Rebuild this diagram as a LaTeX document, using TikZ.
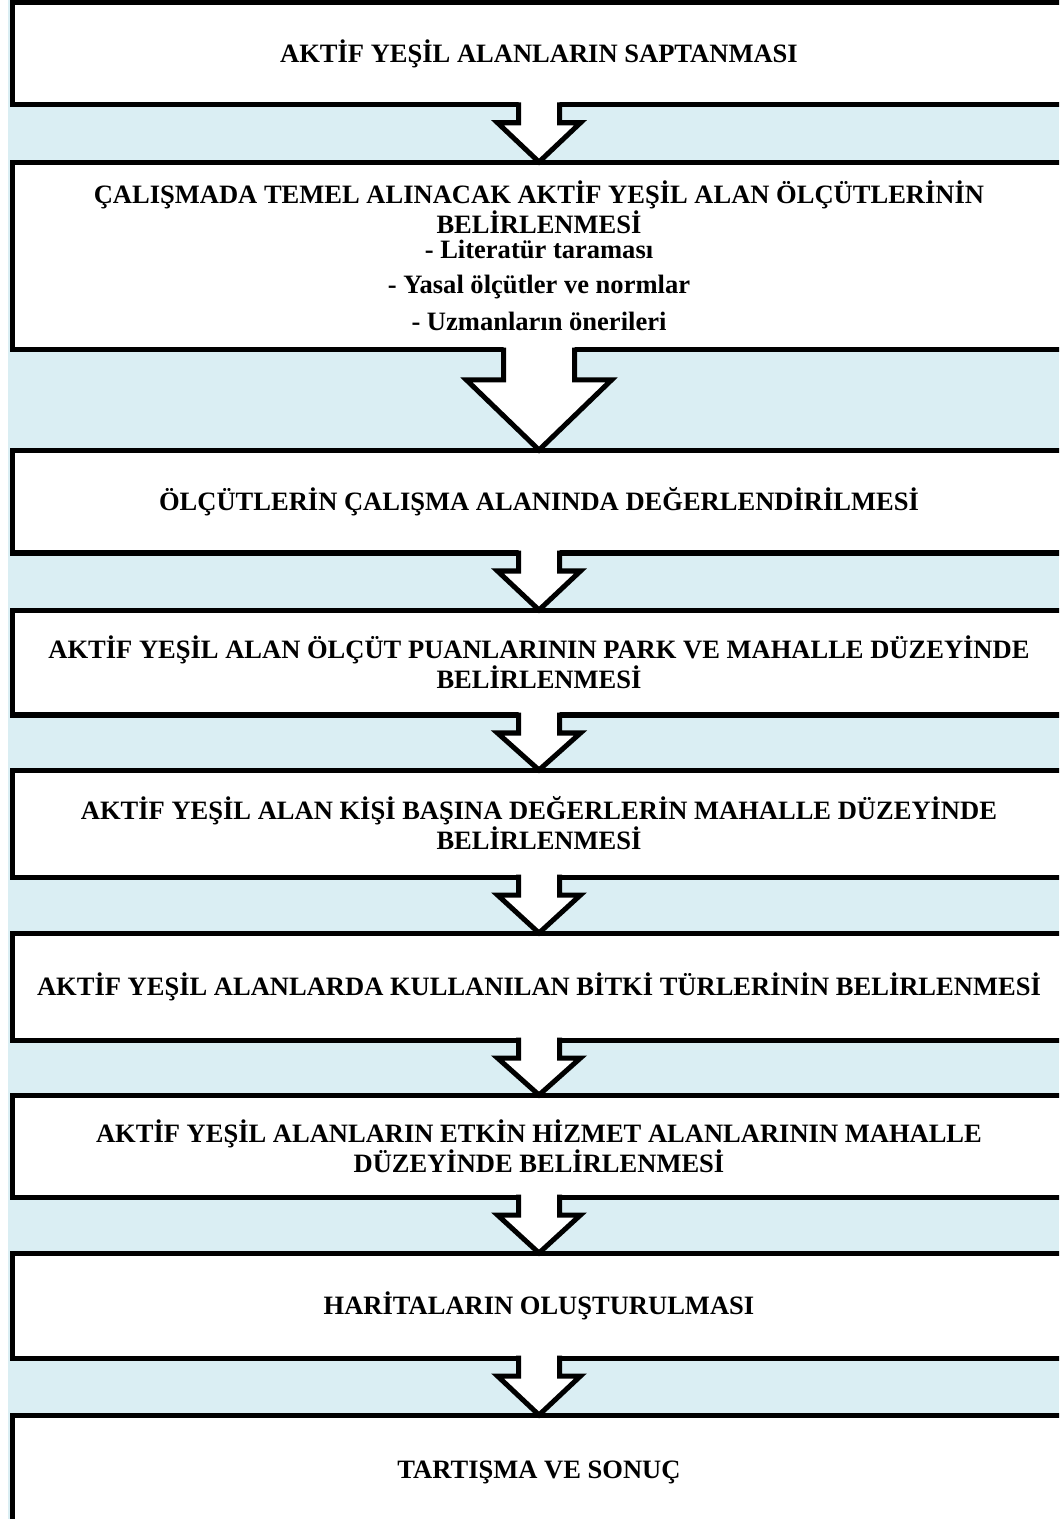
\documentclass[tikz,border=0pt]{standalone}
\usepackage{fontspec}
\setmainfont{Liberation Serif}
\usetikzlibrary{calc}

\definecolor{gapblue}{RGB}{218,238,243}
\newcommand{\stagefont}{\fontsize{15.1pt}{17.1pt}\selectfont\bfseries}

% hollow block arrow from the bottom of one box to the top of the next
\newcommand{\flowarrow}[5]{%
  \fill[white]
    ($(#1.south)+(-#3,-4)$) -- ($(#1.south)+(-#3,#5)$) -- ($(#1.south)+(-#4,#5)$)
    -- (#2.north)
    -- ($(#1.south)+(#4,#5)$) -- ($(#1.south)+(#3,#5)$) -- ($(#1.south)+(#3,-4)$) -- cycle;
  \draw[hollowarrow]
    ($(#1.south)+(-#3,-2.4)$) -- ($(#1.south)+(-#3,#5)$) -- ($(#1.south)+(-#4,#5)$)
    -- (#2.north)
    -- ($(#1.south)+(#4,#5)$) -- ($(#1.south)+(#3,#5)$) -- ($(#1.south)+(#3,-2.4)$);
}

\tikzset{
  stagebox/.style={draw, fill=white, line width=2.85pt, minimum width=21.08cm,
    inner sep=0pt, outer sep=0pt, align=center, font=\stagefont},
  hollowarrow/.style={draw=black, line width=2.85pt},
}

\begin{document}
\begin{tikzpicture}[x=0.02cm, y=-0.02cm]

\path[use as bounding box, clip] (0,0) rectangle (1059,1519);
\fill[gapblue] (8,0) rectangle (1059,1519);

  % stages

\node[stagebox, minimum height=2.05cm] (saptama) at (539,53.5) {AKTİF YEŞİL ALANLARIN SAPTANMASI};

\node[stagebox, minimum height=3.76cm] (olcut) at (539,256) {ÇALIŞMADA TEMEL ALINACAK AKTİF YEŞİL ALAN ÖLÇÜTLERİNİN\\
  BELİRLENMESİ\\[-2.8pt]
  - Literatür taraması\\[2.8pt]
  - Yasal ölçütler ve normlar\\[4pt]
  - Uzmanların önerileri};

\node[stagebox, minimum height=2.06cm] (degerlendirme) at (539,501.5) {ÖLÇÜTLERİN ÇALIŞMA ALANINDA DEĞERLENDİRİLMESİ};

\node[stagebox, minimum height=2.1cm] (puan) at (539,662.5) {AKTİF YEŞİL ALAN ÖLÇÜT PUANLARININ PARK VE MAHALLE DÜZEYİNDE\\BELİRLENMESİ};

\node[stagebox, minimum height=2.14cm] (kisibasi) at (539,823.5) {AKTİF YEŞİL ALAN KİŞİ BAŞINA DEĞERLERİN MAHALLE DÜZEYİNDE\\BELİRLENMESİ};

\node[stagebox, minimum height=2.14cm] (bitki) at (539,986.5) {AKTİF YEŞİL ALANLARDA KULLANILAN BİTKİ TÜRLERİNİN BELİRLENMESİ};

\node[stagebox, minimum height=2.04cm] (hizmet) at (539,1146) {AKTİF YEŞİL ALANLARIN ETKİN HİZMET ALANLARININ MAHALLE\\DÜZEYİNDE BELİRLENMESİ};

\node[stagebox, minimum height=2.1cm] (harita) at (539,1305.5) {HARİTALARIN OLUŞTURULMASI};

\node[stagebox, minimum height=2.3cm] (sonuc) at (539,1472.5) {TARTIŞMA VE SONUÇ};

  % arrows between stages

\flowarrow{saptama}{olcut}{20.5}{41.5}{18}
\flowarrow{olcut}{degerlendirme}{35.5}{72.5}{30}
\flowarrow{degerlendirme}{puan}{20.5}{41.5}{18}
\flowarrow{puan}{kisibasi}{20.5}{41.5}{18}
\flowarrow{kisibasi}{bitki}{20.5}{41.5}{18}
\flowarrow{bitki}{hizmet}{20.5}{41.5}{18}
\flowarrow{hizmet}{harita}{20.5}{41.5}{18}
\flowarrow{harita}{sonuc}{20.5}{41.5}{18}

\end{tikzpicture}
\end{document}
